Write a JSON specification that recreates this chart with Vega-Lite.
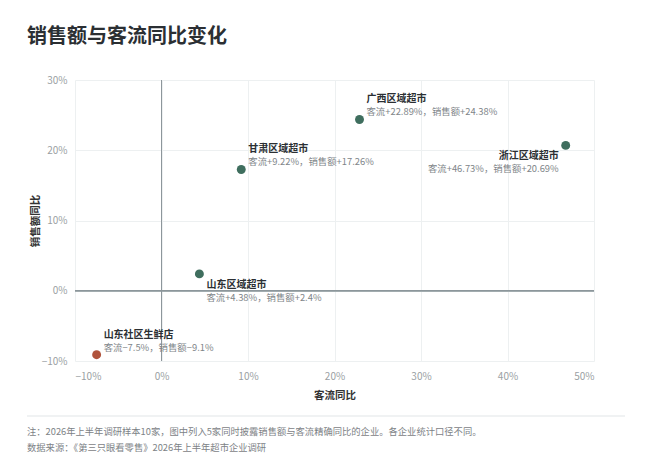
{
  "$schema": "https://vega.github.io/schema/vega-lite/v6.json",
  "autosize": "none",
  "width": 519,
  "height": 281,
  "padding": {"left": 75, "top": 80, "right": 56, "bottom": 114},
  "background": "#ffffff",
  "config": {
    "font": "Noto Sans CJK SC",
    "view": {"stroke": null},
    "axis": {
      "labelFont": "Noto Sans CJK SC",
      "titleFont": "Noto Sans CJK SC",
      "labelColor": "#9a9fa3",
      "labelFontSize": 10,
      "titleColor": "#333333",
      "titleFontSize": 10.5,
      "titleFontWeight": "bold",
      "domain": false,
      "ticks": false,
      "gridColor": "#edf0f1",
      "gridWidth": 1
    },
    "title": {"font": "Noto Sans CJK SC"}
  },
  "title": {
    "text": "销售额与客流同比变化",
    "anchor": "start",
    "frame": "group",
    "dx": -48,
    "offset": 28,
    "fontSize": 20,
    "fontWeight": "bold",
    "color": "#2b2f33"
  },
  "data": {
    "values": [
      {"name": "广西区域超市", "type": "区域超市", "traffic": 0.2289, "sales": 0.2438, "label": "客流+22.89%，销售额+24.38%"},
      {"name": "浙江区域超市", "type": "区域超市", "traffic": 0.4673, "sales": 0.2069, "label": "客流+46.73%，销售额+20.69%"},
      {"name": "甘肃区域超市", "type": "区域超市", "traffic": 0.0922, "sales": 0.1726, "label": "客流+9.22%，销售额+17.26%"},
      {"name": "山东区域超市", "type": "区域超市", "traffic": 0.0438, "sales": 0.024, "label": "客流+4.38%，销售额+2.4%"},
      {"name": "山东社区生鲜店", "type": "社区生鲜店", "traffic": -0.075, "sales": -0.091, "label": "客流−7.5%，销售额−9.1%"}
    ]
  },
  "encoding": {
    "x": {
      "field": "traffic",
      "type": "quantitative",
      "title": "客流同比",
      "scale": {"domain": [-0.1, 0.5], "nice": false, "zero": false},
      "axis": {"values": [-0.1, 0, 0.1, 0.2, 0.3, 0.4, 0.5], "format": ".0%", "labelPadding": 10, "titlePadding": 9}
    },
    "y": {
      "field": "sales",
      "type": "quantitative",
      "title": "销售额同比",
      "scale": {"domain": [-0.1, 0.3], "nice": false, "zero": false},
      "axis": {"values": [-0.1, 0, 0.1, 0.2, 0.3], "format": ".0%", "labelPadding": 8, "titlePadding": 1}
    }
  },
  "layer": [
    {
      "mark": {"type": "rule", "color": "#8d969b", "strokeWidth": 1},
      "encoding": {"x": {"datum": 0}, "y": null}
    },
    {
      "mark": {"type": "rule", "color": "#8d969b", "strokeWidth": 1},
      "encoding": {"y": {"datum": 0}, "x": null}
    },
    {
      "mark": {"type": "point", "filled": true, "opacity": 1, "size": 80},
      "encoding": {
        "color": {
          "field": "type",
          "type": "nominal",
          "scale": {"domain": ["区域超市", "社区生鲜店"], "range": ["#3f6e5e", "#b0533c"]},
          "legend": null
        }
      }
    },
    {
      "transform": [{"filter": "indexof(['广西区域超市','甘肃区域超市','山东社区生鲜店'], datum.name) >= 0"}],
      "layer": [
        {
          "mark": {"type": "text", "align": "left", "baseline": "middle", "dx": 7, "dy": -20, "fontSize": 10, "fontWeight": "bold", "color": "#2b2f33"},
          "encoding": {"text": {"field": "name"}}
        },
        {
          "mark": {"type": "text", "align": "left", "baseline": "middle", "dx": 7, "dy": -7, "fontSize": 9.4, "color": "#808589"},
          "encoding": {"text": {"field": "label"}}
        }
      ]
    },
    {
      "transform": [{"filter": "datum.name == '山东区域超市'"}],
      "layer": [
        {
          "mark": {"type": "text", "align": "left", "baseline": "middle", "dx": 7, "dy": 11, "fontSize": 10, "fontWeight": "bold", "color": "#2b2f33"},
          "encoding": {"text": {"field": "name"}}
        },
        {
          "mark": {"type": "text", "align": "left", "baseline": "middle", "dx": 7, "dy": 24, "fontSize": 9.4, "color": "#808589"},
          "encoding": {"text": {"field": "label"}}
        }
      ]
    },
    {
      "transform": [{"filter": "datum.name == '浙江区域超市'"}],
      "layer": [
        {
          "mark": {"type": "text", "align": "right", "baseline": "middle", "dx": -7, "dy": 11, "fontSize": 10, "fontWeight": "bold", "color": "#2b2f33"},
          "encoding": {"text": {"field": "name"}}
        },
        {
          "mark": {"type": "text", "align": "right", "baseline": "middle", "dx": -7, "dy": 24, "fontSize": 9.4, "color": "#808589"},
          "encoding": {"text": {"field": "label"}}
        }
      ]
    },
    {
      "data": {"values": [{"note": "separator"}]},
      "mark": {"type": "rule", "color": "#e1e5e7", "strokeWidth": 1},
      "encoding": {"x": {"value": -48}, "x2": {"value": 550}, "y": {"value": 336}}
    },
    {
      "data": {"values": [{"text": "注：2026年上半年调研样本10家，图中列入5家同时披露销售额与客流精确同比的企业。各企业统计口径不同。"}]},
      "mark": {"type": "text", "align": "left", "baseline": "middle", "fontSize": 9.3, "color": "#7d8286"},
      "encoding": {"text": {"field": "text"}, "x": {"value": -48}, "y": {"value": 352}}
    },
    {
      "data": {"values": [{"text": "数据来源：《第三只眼看零售》2026年上半年超市企业调研"}]},
      "mark": {"type": "text", "align": "left", "baseline": "middle", "fontSize": 9.3, "color": "#7d8286"},
      "encoding": {"text": {"field": "text"}, "x": {"value": -48}, "y": {"value": 368}}
    }
  ]
}
